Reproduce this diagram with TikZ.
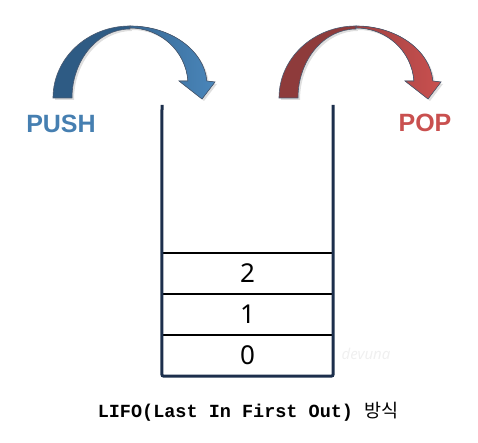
\documentclass[tikz,border=0pt]{standalone}
\usepackage{fontspec}
\setmainfont{Noto Sans}
\newfontfamily\capfont{Liberation Mono}
\newfontfamily\tagfont{Liberation Sans}
\newfontfamily\krfont{Noto Sans CJK KR}
\usetikzlibrary{shadows}
\definecolor{pushdark}{HTML}{2E5B84}
\definecolor{pushlight}{HTML}{4A86BA}
\definecolor{popdark}{HTML}{8E3B3B}
\definecolor{poplight}{HTML}{C9504F}
\definecolor{wallnavy}{HTML}{1C2F4C}

\tikzset{
  band/.style={draw=wallnavy!80, line width=0.6pt,
    drop shadow={opacity=0.25, shadow xshift=2pt, shadow yshift=-2pt}},
  wall/.style={draw=wallnavy, line width=3pt, rounded corners=2pt},
  divider/.style={draw=black, line width=2.5pt},
  cell/.style={minimum width=171pt, minimum height=41pt, inner sep=0pt,
    font=\fontsize{26}{26}\selectfont},
  tag/.style={font=\tagfont\bfseries\fontsize{25}{25}\selectfont}
}

% curved arrow: shift, back colour, front colour
\newcommand{\curvedarrow}[3]{%
\begin{scope}[xshift=#1pt]
\fill[#2, band] (53,345) arc[start angle=180, end angle=90, x radius=77pt, y radius=72pt]
  -- (130,414) arc[start angle=90, end angle=180, x radius=58pt, y radius=69pt] -- cycle;
\fill[band, left color=#2!70!#3, right color=#3] (130,417)
  arc[start angle=90, end angle=3.9, x radius=77pt, y radius=59pt]
  -- (215,361) -- (202,344) -- (179,362) -- (187.9,362)
  arc[start angle=4, end angle=90, x radius=58pt, y radius=57pt] -- cycle;
\end{scope}}

\begin{document}
\begin{tikzpicture}[x=1pt, y=1pt]
\useasboundingbox (0,0) rectangle (478,443);

\curvedarrow{0}{pushdark}{pushlight}
\curvedarrow{226}{popdark}{poplight}

\node[tag, text=pushlight!95!black] (push) at (61,319) {PUSH};
\node[tag, text=poplight] (pop) at (425,320) {POP};

% stack
\node[cell] (c0) at (247.5,87.5) {0};
\node[cell] (c1) at (247.5,128.5) {1};
\node[cell] (c2) at (247.5,169.5) {2};
\draw[divider] (c2.north west) -- (c2.north east);
\draw[divider] (c1.north west) -- (c1.north east);
\draw[divider] (c0.north west) -- (c0.north east);
\draw[wall] (162,338) -- (c0.south west) -- (c0.south east) -- (333,338);

\node[text=gray!12, font=\fontsize{15}{15}\selectfont\itshape] (mark) at (366,89) {devuna};

\node[font=\capfont\bfseries\fontsize{18.5}{20}\selectfont] (caption) at (248,31)
  {LIFO(Last In First Out) {\krfont\mdseries 방식}};
\end{tikzpicture}
\end{document}
